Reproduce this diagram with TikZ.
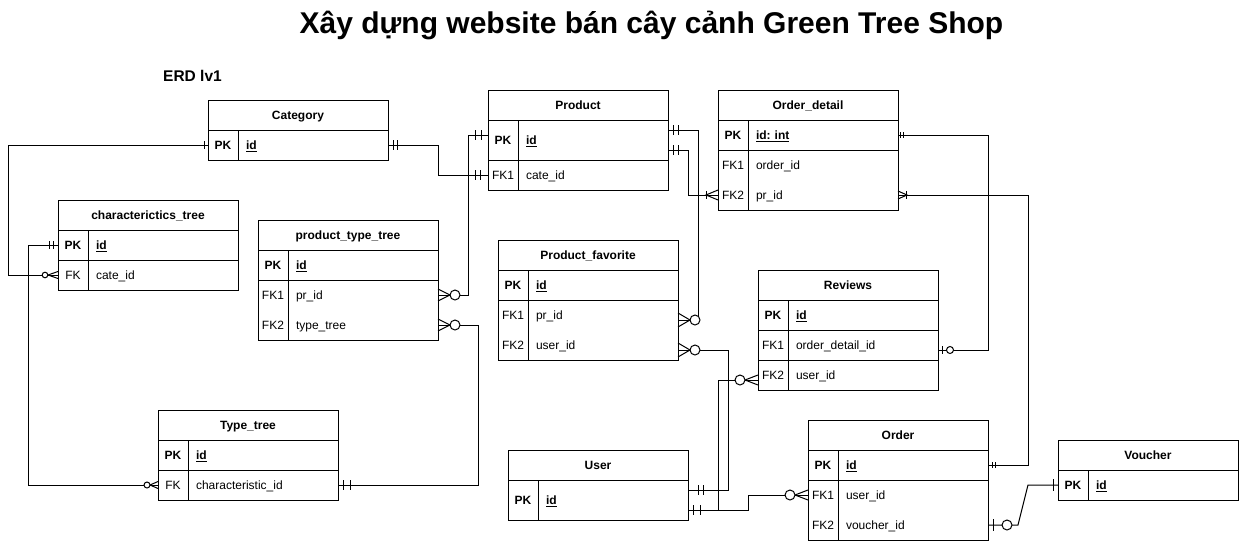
\documentclass[tikz,border=0pt]{standalone}
\usepackage{fontspec}
\setmainfont{Liberation Sans}
\frenchspacing
\tikzset{
 base/.style={inner sep=0pt, outer sep=0pt, text height=8.6pt, text depth=0pt, font=\fontsize{12}{14}\selectfont},
 hc/.style={base, minimum width=180pt, minimum height=30pt, font=\fontsize{12}{14}\selectfont\bfseries},
 kc/.style={base, minimum width=30pt},
 vc/.style={base, minimum width=150pt, text width=134pt, inner xsep=8pt, align=left},
 tbl/.style={line width=1pt, black},
 con/.style={line width=1pt, black},
 pics/one/.style n args={2}{code={\draw[con] (#1,-#2) -- (#1,#2);}},
 pics/two/.style n args={3}{code={\draw[con] (#1,-#3) -- (#1,#3) (#2,-#3) -- (#2,#3);}},
 pics/zmany/.style n args={4}{code={\draw[con] (0,-#2) -- (#1,0) -- (0,#2); \draw[con, fill=white] (#3,0) circle[radius=#4];}},
 pics/zone/.style n args={4}{code={\draw[con] (#1,-#2) -- (#1,#2); \draw[con, fill=white] (#3,0) circle[radius=#4];}},
 pics/omany/.style n args={4}{code={\draw[con] (0,-#2) -- (#1,0) -- (0,#2); \draw[con] (#3,-#4) -- (#3,#4);}},
}
\newcommand\ERhead[4]{\node[hc] (#1) at ({#2+90},{#3+15}) {#4};}
\newcommand\ERrow[6]{%
 \node[kc, minimum height=#4pt] (#1k) at ({#2+15},{#3+#4/2}) {#5};
 \node[vc, minimum height=#4pt] (#1) at ({#2+105},{#3+#4/2}) {#6};}
\newcommand\ERframe[3]{%
 \draw[tbl] (#1.north west) rectangle (#3.south east);
 \draw[tbl] (#1.south west) -- (#1.south east);
 \draw[tbl] (#2k.south west) -- (#2.south east);
 \draw[tbl] (#2k.north east) -- (#3k.south east);}
\newcommand\PKt{\textbf{PK}}
\newcommand\PKv[1]{\underline{\textbf{#1}}}
\begin{document}
\begin{tikzpicture}[x=1pt, y=-1pt]
\useasboundingbox (0,0) rectangle (1240,541);
\node[anchor=base, inner sep=0pt, font=\fontsize{30}{36}\selectfont\bfseries] (title) at (651.5,33) {Xây dựng website bán cây cảnh Green Tree Shop};
\node[anchor=base west, inner sep=0pt, font=\fontsize{15.5}{18}\selectfont\bfseries] (erd) at (163,81) {ERD lv1};

% Category
\ERhead{cat}{208}{100}{Category}
\ERrow{catpk}{208}{130}{30}{\PKt}{\PKv{id}}
\ERframe{cat}{catpk}{catpk}
% characterictics_tree
\ERhead{ct}{58}{200}{characterictics\_tree}
\ERrow{ctpk}{58}{230}{30}{\PKt}{\PKv{id}}
\ERrow{ctfk}{58}{260}{30}{FK}{cate\_id}
\ERframe{ct}{ctpk}{ctfk}
% product_type_tree
\ERhead{ptt}{258}{220}{product\_type\_tree}
\ERrow{pttpk}{258}{250}{30}{\PKt}{\PKv{id}}
\ERrow{pttfk1}{258}{280}{30}{FK1}{pr\_id}
\ERrow{pttfk2}{258}{310}{30}{FK2}{type\_tree}
\ERframe{ptt}{pttpk}{pttfk2}
% Product
\ERhead{prod}{488}{90}{Product}
\ERrow{prodpk}{488}{120}{40}{\PKt}{\PKv{id}}
\ERrow{prodfk1}{488}{160}{30}{FK1}{cate\_id}
\ERframe{prod}{prodpk}{prodfk1}
% Order_detail
\ERhead{od}{718}{90}{Order\_detail}
\ERrow{odpk}{718}{120}{30}{\PKt}{\PKv{id:\ int}}
\ERrow{odfk1}{718}{150}{30}{FK1}{order\_id}
\ERrow{odfk2}{718}{180}{30}{FK2}{pr\_id}
\ERframe{od}{odpk}{odfk2}
% Product_favorite
\ERhead{pf}{498}{240}{Product\_favorite}
\ERrow{pfpk}{498}{270}{30}{\PKt}{\PKv{id}}
\ERrow{pffk1}{498}{300}{30}{FK1}{pr\_id}
\ERrow{pffk2}{498}{330}{30}{FK2}{user\_id}
\ERframe{pf}{pfpk}{pffk2}
% Reviews
\ERhead{rev}{758}{270}{Reviews}
\ERrow{revpk}{758}{300}{30}{\PKt}{\PKv{id}}
\ERrow{revfk1}{758}{330}{30}{FK1}{order\_detail\_id}
\ERrow{revfk2}{758}{360}{30}{FK2}{user\_id}
\ERframe{rev}{revpk}{revfk2}
\draw[tbl] (revfk1k.south west) -- (revfk1.south east);
% User
\ERhead{usr}{508}{450}{User}
\ERrow{usrpk}{508}{480}{40}{\PKt}{\PKv{id}}
\ERframe{usr}{usrpk}{usrpk}
% Order
\ERhead{ord}{808}{420}{Order}
\ERrow{ordpk}{808}{450}{30}{\PKt}{\PKv{id}}
\ERrow{ordfk1}{808}{480}{30}{FK1}{user\_id}
\ERrow{ordfk2}{808}{510}{30}{FK2}{voucher\_id}
\ERframe{ord}{ordpk}{ordfk2}
% Voucher
\ERhead{vou}{1058}{440}{Voucher}
\ERrow{voupk}{1058}{470}{30}{\PKt}{\PKv{id}}
\ERframe{vou}{voupk}{voupk}
% Type_tree
\ERhead{tt}{158}{410}{Type\_tree}
\ERrow{ttpk}{158}{440}{30}{\PKt}{\PKv{id}}
\ERrow{ttfk}{158}{470}{30}{FK}{characteristic\_id}
\ERframe{tt}{ttpk}{ttfk}

% connectors
\draw[con] (catpkk.west) -- ++(-200,0) |- (ctfkk.west);
\draw[con] (catpk.east) -- ++(50,0) |- (prodfk1k.west);
\draw[con] (ctpkk.west) -- ++(-30,0) |- (ttfkk.west);
\draw[con] (ttfk.east) -- ++(140,0) |- (pttfk2.east);
\draw[con] (pttfk1.east) -- ++(30,0) |- ([yshift=5pt]prodpkk.west);
\draw[con] ([yshift=10pt]prodpk.east) -- ++(30,0) |- ([yshift=-5pt]pffk1.east);
\draw[con] ([yshift=-10pt]prodpk.east) -- ++(20,0) |- (odfk2k.west);
\draw[con] (odpk.east) -- ++(90,0) |- ([yshift=-5pt]revfk1.east);
\draw[con] (odfk2.east) -- ++(130,0) |- (ordpk.east);
\draw[con] (ordfk2.east) -- ++(30,0) -- ([xshift=-30pt]voupkk.west) -- (voupkk.west);
\draw[con] (ordfk1k.west) -- ++(-60,0) |- ([yshift=-10pt]usrpk.east);
\draw[con] ([yshift=-5pt]revfk2k.west) -- ++(-40,0) |- ([yshift=-10pt]usrpk.east);
\draw[con] ([yshift=-5pt]pffk2.east) -- ++(50,0) |- ([yshift=10pt]usrpk.east);

% markers
\pic[xscale=-1] at (catpkk.west) {one={4}{4}};
\pic[xscale=-1] at (ctfkk.west) {zmany={10}{3.5}{13}{2.8}};
\pic at (catpk.east) {two={5}{9}{5}};
\pic[xscale=-1] at (prodfk1k.west) {two={8}{13}{5}};
\pic[xscale=-1] at (ctpkk.west) {two={5}{9}{4}};
\pic[xscale=-1] at (ttfkk.west) {zmany={8}{3.5}{11}{3}};
\pic at (ttfk.east) {two={5}{12}{5}};
\pic at (pttfk2.east) {zmany={12}{6}{17}{5}};
\pic at (pttfk1.east) {zmany={12}{6}{17}{5}};
\pic[xscale=-1] at ([yshift=5pt]prodpkk.west) {two={7}{13}{5}};
\pic at ([yshift=10pt]prodpk.east) {two={5}{10}{5}};
\pic at ([yshift=-5pt]pffk1.east) {zmany={12}{7}{17}{5}};
\pic at ([yshift=-10pt]prodpk.east) {two={5}{10}{5}};
\pic[xscale=-1] at (odfk2k.west) {omany={12}{5}{12}{4}};
\pic at (odpk.east) {two={2.5}{5.5}{3}};
\pic at ([yshift=-5pt]revfk1.east) {zone={4}{4}{12}{3.5}};
\pic at (odfk2.east) {omany={9}{4}{8}{4}};
\pic at (ordpk.east) {two={4}{7}{3}};
\pic at (ordfk2.east) {zone={5}{6}{19}{5}};
\pic[xscale=-1] at (voupkk.west) {one={5}{6}};
\pic[xscale=-1] at (ordfk1k.west) {zmany={13}{5}{18}{5}};
\pic at ([yshift=-10pt]usrpk.east) {two={5}{12}{5}};
\pic[xscale=-1] at ([yshift=-5pt]revfk2k.west) {zmany={13}{5}{18}{5}};
\pic at ([yshift=-5pt]pffk2.east) {zmany={12}{7}{17}{5}};
\pic at ([yshift=10pt]usrpk.east) {two={10}{15}{5}};
\end{tikzpicture}
\end{document}
